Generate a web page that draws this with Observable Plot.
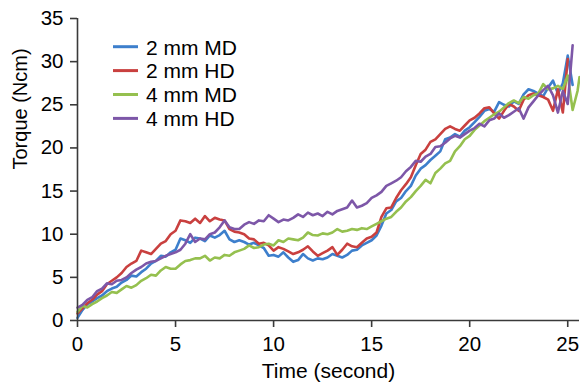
<!DOCTYPE html>
<html>
<head>
<meta charset="utf-8">
<script src="https://cdn.jsdelivr.net/npm/d3@7"></script>
<script src="https://cdn.jsdelivr.net/npm/@observablehq/plot@0.6"></script>
<style>
  html, body { margin: 0; padding: 0; background: #fff; }
  #chart { width: 580px; height: 389px; }
</style>
</head>
<body>
<div id="chart"></div>
<script>
const times = [
  0,0.25,0.5,0.75,1,1.25,1.5,1.75,
  2,2.25,2.5,2.75,3,3.25,3.5,3.75,
  4,4.25,4.5,4.75,5,5.25,5.5,5.75,
  6,6.25,6.5,6.75,7,7.25,7.5,7.75,
  8,8.25,8.5,8.75,9,9.25,9.5,9.75,
  10,10.25,10.5,10.75,11,11.25,11.5,11.75,
  12,12.25,12.5,12.75,13,13.25,13.5,13.75,
  14,14.25,14.5,14.75,15,15.25,15.5,15.75,
  16,16.25,16.5,16.75,17,17.25,17.5,17.75,
  18,18.25,18.5,18.75,19,19.25,19.5,19.75,
  20,20.25,20.5,20.75,21,21.25,21.5,21.75,
  22,22.25,22.5,22.75,23,23.25,23.5,23.75,
  24,24.25,24.5,24.75,25,25.25,25.5,25.6
];

const md2 = [
  0.3,1.2,1.9,2.2,2.6,2.9,3.4,3.7,
  3.9,4.4,4.7,5.2,5.1,5.6,6.0,6.6,
  6.9,7.5,7.4,7.9,8.2,9.5,9.3,9.0,
  9.6,9.5,9.2,9.85,9.6,9.9,10.4,9.4,
  9.1,9.3,9.1,8.8,9.0,8.7,8.4,7.5,
  7.6,7.4,7.9,7.3,6.8,7.0,7.7,7.2,
  6.95,7.2,7.1,7.3,7.7,7.5,7.3,7.6,
  8.1,8.2,8.7,9.0,9.3,9.85,11.0,12.4,
  12.8,13.8,14.2,15.0,15.6,16.8,17.6,18.0,
  18.6,19.1,19.6,21.0,21.2,21.6,21.3,22.0,
  22.4,23.0,23.6,24.3,24.5,24.2,25.3,25.0,
  24.8,25.4,25.1,26.2,26.8,26.6,26.3,26.0,
  27.0,27.8,26.3,27.5,30.7,27.3
];

const hd2 = [
  0.8,1.4,2.0,2.4,3.0,3.4,4.2,4.6,
  5.0,5.5,6.2,6.6,6.9,8.1,7.9,7.7,
  8.3,8.9,9.2,10.0,10.4,11.6,11.5,11.3,
  11.8,11.3,12.1,11.5,11.9,11.7,11.6,10.6,
  10.3,10.2,10.0,9.5,9.4,8.9,9.0,8.7,
  8.1,8.5,8.3,8.0,7.7,7.9,8.2,8.6,
  8.0,7.5,7.8,8.1,8.5,7.6,8.2,8.9,
  8.6,8.5,9.0,9.5,9.7,10.2,12.0,13.0,
  13.1,14.2,15.1,15.8,16.6,18.0,19.3,19.8,
  20.7,21.0,21.6,22.2,22.5,22.2,22.0,22.6,
  23.2,23.5,24.0,24.6,24.7,24.0,23.4,24.3,
  25.1,24.8,24.3,25.6,26.1,26.3,26.1,25.9,
  25.6,24.3,26.8,24.1,30.3
];

const md4 = [
  1.0,1.7,1.5,1.9,2.2,2.6,2.9,3.3,
  3.2,3.6,4.0,3.8,4.1,4.6,4.9,5.3,
  5.2,5.8,6.2,6.0,6.0,6.5,6.9,7.0,
  7.2,7.2,7.5,6.95,7.3,7.2,7.6,7.5,
  7.9,8.1,8.3,8.7,8.4,8.5,8.8,8.9,
  8.7,9.3,9.1,9.5,9.4,9.3,9.6,10.2,
  9.9,9.85,10.1,10.0,10.2,10.6,10.3,10.4,
  10.6,10.5,10.7,10.6,10.9,11.2,11.5,11.8,
  12.0,12.6,13.1,13.8,14.3,15.0,15.6,16.3,
  15.9,17.1,17.6,18.2,18.5,19.6,20.2,21.0,
  21.4,22.1,22.6,23.1,23.5,23.9,24.2,24.7,
  25.2,25.5,25.2,25.9,25.7,26.1,26.3,27.4,
  26.8,26.9,27.2,26.8,28.4,24.4,26.6,28.2
];

const hd4 = [
  1.5,1.8,2.4,2.7,3.4,3.7,4.3,4.2,
  4.6,4.7,5.0,5.5,5.9,6.2,6.6,6.8,
  6.9,7.2,7.5,7.7,7.9,8.2,8.9,10.0,
  9.1,9.5,9.4,10.0,10.2,10.8,11.6,10.8,
  10.6,10.6,11.1,11.4,11.2,11.6,11.5,12.2,
  11.8,11.4,11.7,11.6,11.9,12.3,12.0,12.5,
  12.2,12.4,12.1,12.6,12.3,12.7,12.9,13.1,
  13.9,13.1,13.3,13.6,14.2,14.5,14.9,15.6,
  15.9,16.2,16.6,17.3,17.8,18.5,18.4,19.0,
  19.3,20.1,20.2,20.6,21.1,21.4,21.2,21.6,
  22.0,22.3,22.8,22.5,23.2,23.4,24.0,23.5,
  23.8,24.2,24.6,23.4,24.7,25.4,26.1,26.7,
  27.2,26.1,24.1,26.6,25.1,31.9
];

const seriesNames = ["2 mm MD", "2 mm HD", "4 mm MD", "4 mm HD"];
const seriesValues = [md2, hd2, md4, hd4];
const seriesColors = ["#3d7fcc", "#c9403f", "#95c04f", "#7d57a8"];
const xTicks = [0, 5, 10, 15, 20, 25];
const yTicks = [0, 5, 10, 15, 20, 25, 30, 35];
const xLabel = "Time (second)";
const yLabel = "Torque (Ncm)";

const rows = [];
seriesNames.forEach((name, k) => {
  seriesValues[k].forEach((v, i) => rows.push({t: times[i], v, s: name}));
});

const FONT = "'Liberation Sans', Arial, Helvetica, sans-serif";
const AXIS = "#3a3a3a";

const chart = Plot.plot({
  width: 580,
  height: 389,
  marginLeft: 77,
  marginRight: 1,
  marginTop: 18,
  marginBottom: 69,
  style: {fontFamily: FONT, fontSize: "20px", color: "#000", background: "#fff", overflow: "visible"},
  x: {domain: [0, 25.6]},
  y: {domain: [0, 35]},
  color: {domain: seriesNames, range: seriesColors},
  marks: [
    Plot.line(rows, {x: "t", y: "v", z: "s", stroke: "s", strokeWidth: 2.6, strokeLinejoin: "round", strokeLinecap: "round"}),
    Plot.ruleY([0], {stroke: AXIS, strokeWidth: 1.6}),
    Plot.ruleX([0], {stroke: AXIS, strokeWidth: 1.6}),
    Plot.axisX({ticks: xTicks, tickSize: 7, tickPadding: 9, fontSize: 20.5, label: null, stroke: AXIS, strokeWidth: 1.6, fill: "#000"}),
    Plot.axisY({ticks: yTicks, tickSize: 7, tickPadding: 7, fontSize: 20.5, label: null, stroke: AXIS, strokeWidth: 1.6, fill: "#000"}),
    Plot.text([xLabel], {text: d => d, frameAnchor: "bottom", dy: 57, fontSize: 21, fill: "#000"}),
    Plot.text([yLabel], {text: d => d, frameAnchor: "left", dx: -57, rotate: -90, fontSize: 20, fill: "#000"})
  ]
});

// legend inside the plot area
const svg = d3.select(chart);
const lg = svg.append("g").attr("transform", "translate(113,46.7)");
seriesNames.forEach((name, k) => {
  const g = lg.append("g").attr("transform", `translate(0,${k * 23.9})`);
  g.append("line").attr("x1", 0).attr("x2", 25).attr("y1", 0).attr("y2", 0)
    .attr("stroke", seriesColors[k]).attr("stroke-width", 3);
  g.append("text").attr("x", 33).attr("y", 7.8)
    .attr("text-anchor", "start")
    .attr("font-family", FONT).attr("font-size", 21).attr("fill", "#000")
    .text(name);
});

document.getElementById("chart").appendChild(chart);
</script>
</body>
</html>
